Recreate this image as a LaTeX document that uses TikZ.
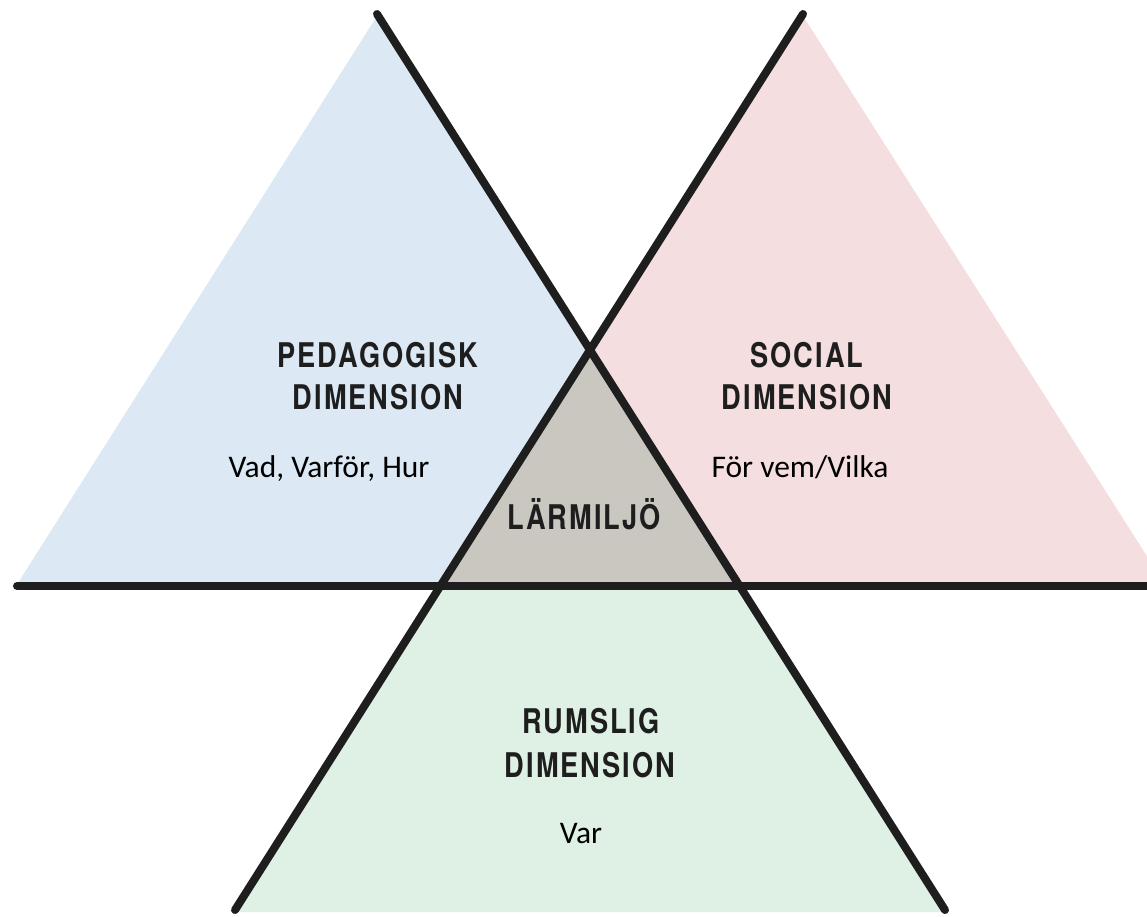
\documentclass[tikz,border=0pt]{standalone}
\usepackage{fontspec}
\setmainfont{Carlito}
\newfontfamily\headfont[FakeStretch=0.8,LetterSpace=6]{TeX Gyre Heros}
\begin{document}
\definecolor{pedblue}{RGB}{220,233,245}
\definecolor{socpink}{RGB}{245,222,223}
\definecolor{rumgreen}{RGB}{223,240,228}
\definecolor{midgray}{RGB}{202,199,192}
\definecolor{ink}{RGB}{30,30,30}
\begin{tikzpicture}[x=1pt,y=-1pt,
  heading/.style={anchor=base,inner sep=0pt,text=ink,font={\headfont\bfseries\fontsize{34}{40}\selectfont}},
  question/.style={anchor=base,inner sep=0pt,text=black,font={\fontsize{31.5}{36}\selectfont}},
  axis/.style={draw=ink,line width=8pt,line cap=round}]
\useasboundingbox (0,0) rectangle (1147,916);
\clip (0,0) rectangle (1147,916);
% triangles
\fill[pedblue] (377,16) -- (16,586) -- (740,586) -- cycle;
\fill[socpink] (803,16) -- (440,586) -- (1166,586) -- cycle;
\fill[rumgreen] (590,350) -- (235,912) -- (945,912) -- cycle;
\fill[midgray] (590,350) -- (440,586) -- (740,586) -- cycle;
% line end points
\coordinate (aTop) at (377,14);
\coordinate (aBot) at (945,910);
\coordinate (bTop) at (803,14);
\coordinate (bBot) at (235,910);
\coordinate (hL) at (17,586);
\coordinate (hR) at (1160,586);
\draw[axis] (aTop) -- (aBot);
\draw[axis] (bTop) -- (bBot);
\draw[axis] (hL) -- (hR);
% texts
\node[heading] (ped1) at (378,367) {PEDAGOGISK};
\node[heading] (ped2) at (378,409) {DIMENSION};
\node[question] (pedq) at (329,477) {Vad, Varför, Hur};
\node[heading] (soc1) at (807,367) {SOCIAL};
\node[heading] (soc2) at (807,409) {DIMENSION};
\node[question] (socq) at (800,477) {För vem/Vilka};
\node[heading] (mid) at (584,529) {LÄRMILJÖ};
\node[heading] (rum1) at (591,733) {RUMSLIG};
\node[heading] (rum2) at (590,777) {DIMENSION};
\node[question] (rumq) at (581,843) {Var};
\end{tikzpicture}
\end{document}
